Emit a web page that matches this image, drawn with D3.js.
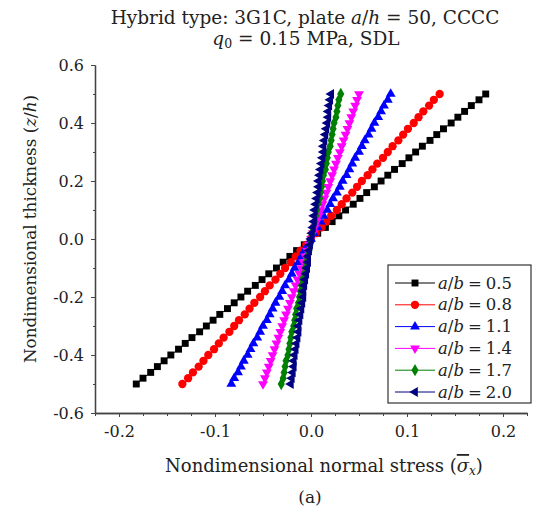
<!DOCTYPE html>
<html>
<head>
<meta charset="utf-8">
<script src="https://cdn.jsdelivr.net/npm/d3@7"></script>
<style>
  body { margin: 0; background: #fff; }
  svg text { font-family: "DejaVu Serif", "Liberation Serif", serif; fill: #222; }
</style>
</head>
<body>
<div id="chart-area"></div>
<script>
// thickness positions (z/h) of the plotted points
let zVals = [-0.50,-0.48,-0.46,-0.44,-0.42,-0.40,-0.38,-0.36,-0.34,-0.32,-0.30,-0.28,-0.26,-0.24,-0.22,-0.20,-0.18,-0.16,-0.14,-0.12,-0.10,-0.08,-0.06,-0.04,-0.02,
  0.00,0.02,0.04,0.06,0.08,0.10,0.12,0.14,0.16,0.18,0.20,0.22,0.24,0.26,0.28,0.30,0.32,0.34,0.36,0.38,0.40,0.42,0.44,0.46,0.48,0.50];

// nondimensional normal stress for each a/b
let s05 = [-0.182,-0.175,-0.167,-0.160,-0.153,-0.146,-0.138,-0.131,-0.124,-0.116,-0.109,-0.102,-0.095,-0.087,-0.080,-0.073,-0.066,-0.058,-0.051,-0.044,-0.036,-0.029,-0.022,-0.015,-0.007,
  0.000,0.007,0.015,0.022,0.029,0.036,0.044,0.051,0.058,0.066,0.073,0.080,0.087,0.095,0.102,0.109,0.116,0.124,0.131,0.138,0.146,0.153,0.160,0.167,0.175,0.182];
let s08 = [-0.134,-0.128,-0.123,-0.117,-0.112,-0.107,-0.101,-0.096,-0.091,-0.085,-0.080,-0.075,-0.069,-0.064,-0.059,-0.053,-0.048,-0.043,-0.037,-0.032,-0.027,-0.021,-0.016,-0.011,-0.005,
  0.000,0.005,0.011,0.016,0.021,0.027,0.032,0.037,0.043,0.048,0.053,0.059,0.064,0.069,0.075,0.080,0.085,0.091,0.096,0.101,0.107,0.112,0.117,0.123,0.128,0.134];
let s11 = [-0.083,-0.080,-0.076,-0.073,-0.070,-0.066,-0.063,-0.060,-0.056,-0.053,-0.050,-0.046,-0.043,-0.040,-0.037,-0.033,-0.030,-0.027,-0.023,-0.020,-0.017,-0.013,-0.010,-0.007,-0.003,
  0.000,0.003,0.007,0.010,0.013,0.017,0.020,0.023,0.027,0.030,0.033,0.037,0.040,0.043,0.046,0.050,0.053,0.056,0.060,0.063,0.066,0.070,0.073,0.076,0.080,0.083];
let s14 = [-0.050,-0.048,-0.046,-0.044,-0.042,-0.040,-0.038,-0.036,-0.034,-0.032,-0.030,-0.028,-0.026,-0.024,-0.022,-0.020,-0.018,-0.016,-0.014,-0.012,-0.010,-0.008,-0.006,-0.004,-0.002,
  0.000,0.002,0.004,0.006,0.008,0.010,0.012,0.014,0.016,0.018,0.020,0.022,0.024,0.026,0.028,0.030,0.032,0.034,0.036,0.038,0.040,0.042,0.044,0.046,0.048,0.050];
let s17 = [-0.031,-0.029,-0.028,-0.027,-0.026,-0.024,-0.023,-0.022,-0.021,-0.020,-0.018,-0.017,-0.016,-0.015,-0.013,-0.012,-0.011,-0.010,-0.009,-0.007,-0.006,-0.005,-0.004,-0.002,-0.001,
  0.000,0.001,0.002,0.004,0.005,0.006,0.007,0.009,0.010,0.011,0.012,0.013,0.015,0.016,0.017,0.018,0.020,0.021,0.022,0.023,0.024,0.026,0.027,0.028,0.029,0.031];
let s20 = [-0.021,-0.020,-0.019,-0.018,-0.018,-0.017,-0.016,-0.015,-0.014,-0.013,-0.013,-0.012,-0.011,-0.010,-0.009,-0.008,-0.008,-0.007,-0.006,-0.005,-0.004,-0.003,-0.003,-0.002,-0.001,
  0.000,0.001,0.002,0.003,0.003,0.004,0.005,0.006,0.007,0.008,0.008,0.009,0.010,0.011,0.012,0.013,0.013,0.014,0.015,0.016,0.017,0.018,0.018,0.019,0.020,0.021];

let ratioLabels = ["0.5", "0.8", "1.1", "1.4", "1.7", "2.0"];
let colors = ["#000000", "#ff0000", "#0000ff", "#ff00ff", "#008000", "#000080"];
let xTicks = [-0.2, -0.1, 0.0, 0.1, 0.2];
let yTicks = [-0.6, -0.4, -0.2, 0.0, 0.2, 0.4, 0.6];

let allStress = [s05, s08, s11, s14, s17, s20];
let shapes = [
  {type: d3.symbolSquare, size: 48, rot: 0},
  {type: d3.symbolCircle, size: 54, rot: 0},
  {type: d3.symbolTriangle, size: 42, rot: 0},
  {type: d3.symbolTriangle, size: 42, rot: 180},
  {type: d3.symbolDiamond, size: 44, rot: 0},
  {type: d3.symbolTriangle, size: 42, rot: -90}
];

let W = 537, H = 512;
let svg = d3.select("#chart-area").append("svg")
    .attr("width", W)
    .attr("height", H);

// Scales
let x = d3.scaleLinear().domain([-0.225, 0.225]).range([95, 527]);
let y = d3.scaleLinear().domain([-0.6, 0.6]).range([413, 65]);

// hyphen, not unicode minus, like the original
let fmt = d => d3.format(".1f")(d).replace("−", "-");

// Axes
let xAxis = d3.axisBottom(x).tickValues(xTicks).tickFormat(fmt).tickSize(4).tickPadding(9).tickSizeOuter(0);
let yAxis = d3.axisLeft(y).tickValues(yTicks).tickFormat(fmt).tickSize(4).tickPadding(7).tickSizeOuter(0);

let xMinor = d3.axisBottom(x).tickValues(d3.range(-0.225, 0.2251, 0.025)).tickFormat("").tickSize(3).tickSizeOuter(0);
let yMinor = d3.axisLeft(y).tickValues(d3.range(-0.5, 0.51, 0.2)).tickFormat("").tickSize(2).tickSizeOuter(0);

svg.append("g").attr("transform", "translate(0,413)").call(xMinor);
let xg = svg.append("g").attr("transform", "translate(0,413)").call(xAxis);
svg.append("g").attr("transform", "translate(95,0)").call(yMinor);
let yg = svg.append("g").attr("transform", "translate(95,0)").call(yAxis);

svg.selectAll(".domain").attr("stroke", "#444").attr("stroke-width", 1.3);
svg.selectAll(".tick line").attr("stroke", "#444").attr("stroke-width", 1);
svg.selectAll(".tick text")
    .style("font-family", "'DejaVu Serif', serif")
    .style("font-size", "16px")
    .attr("fill", "#222");

// Series
let line = d3.line().x(d => x(d[0])).y(d => y(d[1]));

allStress.forEach(function(s, i) {
  let pts = s.map((v, j) => [v, zVals[j]]);
  let g = svg.append("g");
  g.append("path")
    .datum(pts)
    .attr("d", line)
    .attr("fill", "none")
    .attr("stroke", colors[i])
    .attr("stroke-width", 1);
  g.selectAll("path.m")
    .data(pts)
    .enter().append("path")
    .attr("class", "m")
    .attr("d", d3.symbol().type(shapes[i].type).size(shapes[i].size))
    .attr("transform", d => "translate(" + x(d[0]) + "," + y(d[1]) + ") rotate(" + shapes[i].rot + ")")
    .attr("fill", colors[i]);
});

// Legend
let lg = svg.append("g");
lg.append("rect")
    .attr("x", 388).attr("y", 265)
    .attr("width", 143).attr("height", 138)
    .attr("fill", "#fff")
    .attr("stroke", "#333")
    .attr("stroke-width", 1.2);

ratioLabels.forEach(function(lab, i) {
  let yy = 283 + i * 21.8;
  lg.append("line")
    .attr("x1", 395).attr("x2", 435)
    .attr("y1", yy).attr("y2", yy)
    .attr("stroke", colors[i]).attr("stroke-width", 1);
  lg.append("path")
    .attr("d", d3.symbol().type(shapes[i].type).size(shapes[i].size))
    .attr("transform", "translate(415," + yy + ") rotate(" + shapes[i].rot + ")")
    .attr("fill", colors[i]);
  let t = lg.append("text")
    .attr("x", 438).attr("y", yy + 5.5)
    .style("font-size", "16.5px");
  t.append("tspan").style("font-style", "italic").text("a");
  t.append("tspan").text("/");
  t.append("tspan").style("font-style", "italic").text("b");
  t.append("tspan").attr("dx", 4).text("=");
  t.append("tspan").attr("dx", 4).text(lab);
});

// Titles
let t1 = svg.append("text")
    .attr("x", 305).attr("y", 24)
    .attr("text-anchor", "middle")
    .style("font-size", "18.5px");
t1.append("tspan").text("Hybrid type: 3G1C, plate ");
t1.append("tspan").style("font-style", "italic").text("a");
t1.append("tspan").text("/");
t1.append("tspan").style("font-style", "italic").text("h");
t1.append("tspan").text(" = 50, CCCC");

let t2 = svg.append("text")
    .attr("x", 306).attr("y", 45)
    .attr("text-anchor", "middle")
    .style("font-size", "18.5px");
t2.append("tspan").style("font-style", "italic").text("q");
t2.append("tspan").attr("dy", 3).style("font-size", "12.5px").text("0");
t2.append("tspan").attr("dy", -3).text(" = 0.15 MPa, SDL");

let xt = svg.append("text")
    .attr("x", 324).attr("y", 472)
    .attr("text-anchor", "middle")
    .style("font-size", "18px");
xt.append("tspan").text("Nondimensional normal stress (");
xt.append("tspan").style("font-style", "italic").style("text-decoration", "overline").text("σ");
xt.append("tspan").attr("dy", 3).style("font-style", "italic").style("font-size", "12px").text("x");
xt.append("tspan").attr("dy", -3).text(")");

svg.append("text")
    .attr("x", 310).attr("y", 503)
    .attr("text-anchor", "middle")
    .style("font-size", "17px")
    .text("(a)");

let yt = svg.append("text")
    .attr("transform", "translate(36,229) rotate(-90)")
    .attr("text-anchor", "middle")
    .style("font-size", "16.8px");
yt.append("tspan").text("Nondimensional thickness (");
yt.append("tspan").style("font-style", "italic").text("z");
yt.append("tspan").text("/");
yt.append("tspan").style("font-style", "italic").text("h");
yt.append("tspan").text(")");
</script>
</body>
</html>
